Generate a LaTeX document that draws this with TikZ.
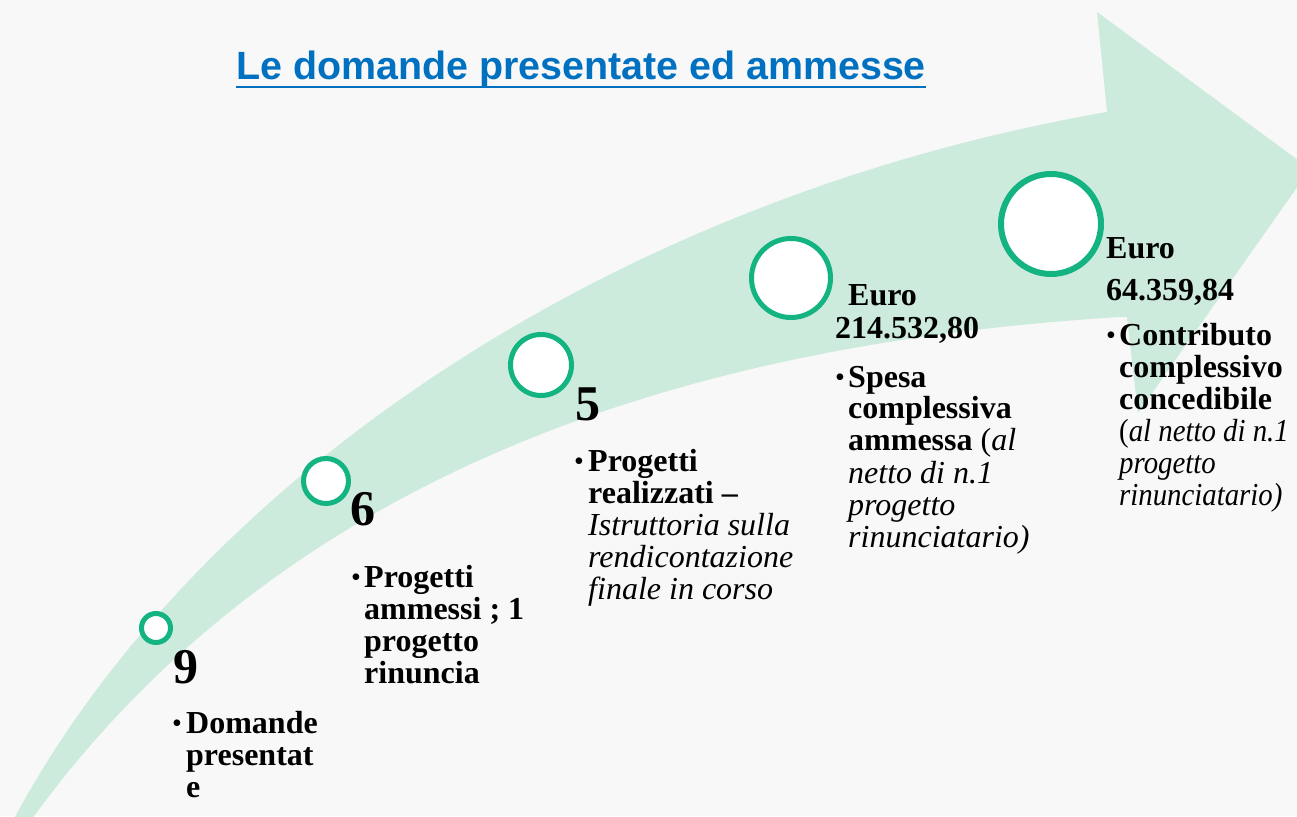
\documentclass[tikz,border=0pt]{standalone}
\usepackage{fontspec}
\setmainfont{Liberation Serif}
\newfontfamily\titlefont{Liberation Sans}
\newfontfamily\narrowserif[FakeStretch=0.9]{Liberation Serif}
\definecolor{bgc}{RGB}{248,248,248}
\definecolor{arrowc}{RGB}{204,235,221}
\definecolor{ringc}{RGB}{20,180,130}
\definecolor{titlec}{RGB}{0,112,192}
\tikzset{
  ring/.style={circle, draw=ringc, fill=white, line width=5pt, inner sep=0pt},
  body/.style={font=\fontsize{32}{32}\selectfont\bfseries, anchor=base west, inner sep=0pt},
  itbody/.style={font=\fontsize{32}{32}\selectfont\itshape, anchor=base west, inner sep=0pt},
  itnarrow/.style={font=\narrowserif\fontsize{32}{32}\selectfont\itshape, anchor=base west, inner sep=0pt},
  bignum/.style={font=\fontsize{50}{50}\selectfont\bfseries, anchor=base west, inner sep=0pt},
  bul/.style={font=\fontsize{28}{28}\selectfont, anchor=base, inner sep=0pt},
}
\begin{document}
\begin{tikzpicture}[x=1pt, y=-1pt]
\useasboundingbox (0,0) rectangle (1297,816);
\clip (0,0) rectangle (1297,816);
\fill[bgc] (0,0) rectangle (1297,816);

% arrow
\fill[arrowc] (8,830) .. controls (185,490) and (600,200) .. (1107,112)
  -- (1097,12) -- (1310,169) -- (1138,413) -- (1127,317) -- (1120,317)
  .. controls (750,340) and (300,440) .. (24,830) -- cycle;

% title
\node[font=\titlefont\fontsize{39.4}{39.4}\selectfont\bfseries, text=titlec, anchor=base west, inner sep=0pt] (title) at (236,79) {Le domande presentate ed ammesse};
\draw[titlec, line width=2.5pt] ([yshift=-8pt]title.base west) -- ([yshift=-8pt]title.base east);

% circles
\node[ring, minimum size=29pt] (c1) at (156,628) {};
\node[ring, minimum size=45pt] (c2) at (326,481) {};
\node[ring, minimum size=61pt] (c3) at (541,365) {};
\node[ring, minimum size=79pt] (c4) at (791,278) {};
\node[ring, minimum size=100pt, line width=6pt] (c5) at (1051,224) {};

% block 1
\node[bignum] (d9) at (173,683) {9};
\node[bul] (b1) at (177,732) {•};
\node[body] (t1a) at (186,733) {Domande};
\node[body] (t1b) at (186,765) {presentat};
\node[body] (t1c) at (186,797) {e};

% block 2
\node[bignum] (d6) at (350,525) {6};
\node[bul] (b2) at (356,586) {•};
\node[body] (t2a) at (364,587) {Progetti};
\node[body] (t2b) at (364,619) {ammessi ; 1};
\node[body] (t2c) at (364,651) {progetto};
\node[body] (t2d) at (364,683) {rinuncia};

% block 3
\node[bignum] (d5) at (575,420) {5};
\node[bul] (b3) at (579,470) {•};
\node[body] (t3a) at (588,471) {Progetti};
\node[body] (t3b) at (588,503) {realizzati –};
\node[itbody] (t3c) at (588,535) {Istruttoria sulla};
\node[itbody] (t3d) at (588,567) {rendicontazione};
\node[itbody] (t3e) at (588,599) {finale in corso};

% block 4
\node[body] (e4a) at (848,305) {Euro};
\node[body] (e4b) at (835,338) {214.532,80};
\node[bul] (b4) at (840,386) {•};
\node[body] (t4a) at (848,387) {Spesa};
\node[body] (t4b) at (848,418) {complessiva};
\node[body] (t4c) at (848,450) {ammessa {\mdseries(\itshape al}};
\node[itbody] (t4d) at (848,483) {netto di n.1};
\node[itbody] (t4e) at (848,515) {progetto};
\node[itbody] (t4f) at (848,547) {rinunciatario)};

% block 5
\node[body] (e5a) at (1106,258) {Euro};
\node[body] (e5b) at (1106,300) {64.359,84};
\node[bul] (b5) at (1111,344) {•};
\node[body] (t5a) at (1119,345) {Contributo};
\node[body] (t5b) at (1119,377) {complessivo};
\node[body] (t5c) at (1119,409) {concedibile};
\node[itnarrow] (t5d) at (1119,441) {{\upshape(}al netto di n.1};
\node[itnarrow] (t5e) at (1119,473) {progetto};
\node[itnarrow] (t5f) at (1119,505) {rinunciatario)};
\end{tikzpicture}
\end{document}
